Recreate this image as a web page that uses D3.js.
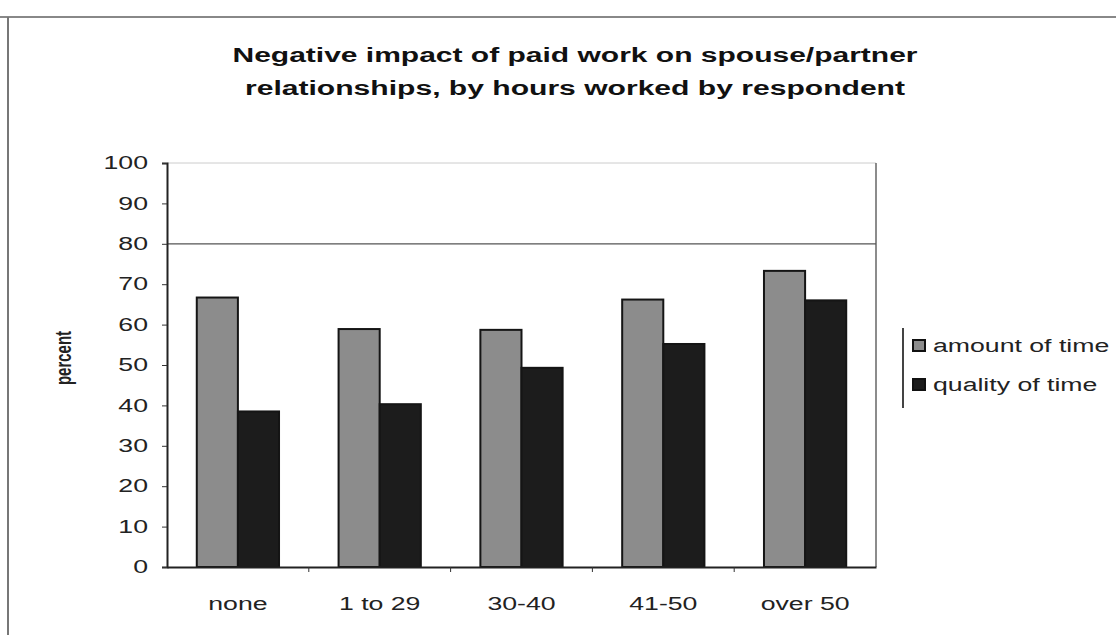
<!DOCTYPE html>
<html><head><meta charset="utf-8">
<script src="https://cdn.jsdelivr.net/npm/d3@7"></script>
<style>body{margin:0;background:#fff}svg{display:block}</style>
</head><body>
<svg id="c" width="1116" height="635"></svg>
<script>
const categories = ["none", "1 to 29", "30-40", "41-50", "over 50"];
const seriesNames = ["amount of time", "quality of time"];
const amountOfTime = [66.7, 58.9, 58.7, 66.2, 73.3];
const qualityOfTime = [38.5, 40.3, 49.3, 55.2, 66.0];
const yTicks = [0, 10, 20, 30, 40, 50, 60, 70, 80, 90, 100];
const titleLines = ["Negative impact of paid work on spouse/partner", "relationships, by hours worked by respondent"];
const colors = ["#8c8c8c", "#1c1c1c"];

const svg = d3.select("#c");
const font = "'Liberation Sans', Arial, sans-serif";
const m = {left: 167, right: 876, top: 163, bottom: 567};
const SX = 1.48; // horizontal stretch of glyphs seen in the reference

function stretch(sel, f) {
  sel.each(function() {
    const w = this.getComputedTextLength();
    d3.select(this).attr("textLength", w * f).attr("lengthAdjust", "spacingAndGlyphs");
  });
}

// outer frame
svg.append("line").attr("x1", 0).attr("x2", 1116).attr("y1", 17).attr("y2", 17).attr("stroke", "#888").attr("stroke-width", 2);
svg.append("line").attr("x1", 8).attr("x2", 8).attr("y1", 17).attr("y2", 635).attr("stroke", "#777").attr("stroke-width", 2);

// title
const tw = [685, 660];
titleLines.forEach((t, i) => {
  svg.append("text").attr("x", 575).attr("y", 62 + i * 33).attr("text-anchor", "middle")
    .attr("font-family", font).attr("font-weight", "bold").attr("font-size", 20)
    .attr("textLength", tw[i]).attr("lengthAdjust", "spacingAndGlyphs").attr("fill", "#111").text(t);
});

const x = d3.scaleBand().domain(categories).range([m.left, m.right]).paddingInner(0.42).paddingOuter(0.21);
const xs = d3.scaleBand().domain(seriesNames).range([0, x.bandwidth()]);
const y = d3.scaleLinear().domain([0, 100]).range([m.bottom, m.top]);

// plot frame (top/right) and gridline at 80
svg.append("line").attr("x1", m.left).attr("x2", m.right).attr("y1", y(100)).attr("y2", y(100)).attr("stroke", "#ccc").attr("stroke-width", 1);
svg.append("line").attr("x1", m.right).attr("x2", m.right).attr("y1", y(100)).attr("y2", y(0)).attr("stroke", "#666").attr("stroke-width", 1.5);
svg.append("line").attr("x1", m.left).attr("x2", m.right).attr("y1", y(80)).attr("y2", y(80)).attr("stroke", "#555").attr("stroke-width", 1.2);

// bars
const data = categories.map((c, i) => ({c, vals: [amountOfTime[i], qualityOfTime[i]]}));
const g = svg.append("g");
data.forEach(d => {
  d.vals.forEach((v, j) => {
    g.append("rect").attr("x", x(d.c) + xs(seriesNames[j])).attr("y", y(v))
      .attr("width", xs.bandwidth()).attr("height", y(0) - y(v))
      .attr("fill", colors[j]).attr("stroke", "#151515").attr("stroke-width", 2);
  });
});

// y axis
const ya = svg.append("g").attr("transform", `translate(${m.left},0)`)
  .call(d3.axisLeft(y).tickValues(yTicks).tickSize(5).tickPadding(14));
ya.select(".domain").attr("stroke", "#222").attr("stroke-width", 2);
ya.selectAll(".tick line").attr("stroke", "#333");
ya.selectAll("text").attr("font-family", font).attr("font-size", 18).attr("fill", "#222");
stretch(ya.selectAll("text"), SX);

// x axis
const xa = svg.append("g").attr("transform", `translate(0,${m.bottom})`)
  .call(d3.axisBottom(x).tickSize(0).tickPadding(30));
xa.select(".domain").attr("stroke", "#222").attr("stroke-width", 2);
xa.selectAll("text").attr("font-family", font).attr("font-size", 18).attr("fill", "#222");
stretch(xa.selectAll("text"), SX);
// category separator ticks
const step = x.step();
categories.slice(1).forEach((c) => {
  const xx = x(c) - x.paddingInner() * step / 2;
  xa.append("line").attr("x1", xx).attr("x2", xx).attr("y1", 0).attr("y2", 5).attr("stroke", "#333");
});

// y label
svg.append("text").attr("transform", "translate(71,358) scale(1.5,1) rotate(-90)").attr("text-anchor", "middle")
  .attr("font-family", font).attr("font-size", 15).attr("font-weight", "bold").attr("fill", "#222").text("percent");

// legend
svg.append("line").attr("x1", 903).attr("x2", 903).attr("y1", 328).attr("y2", 408).attr("stroke", "#444").attr("stroke-width", 2);
seriesNames.forEach((s, i) => {
  const ly = 352 + i * 39;
  svg.append("rect").attr("x", 913).attr("y", ly - 12).attr("width", 12).attr("height", 11)
    .attr("fill", colors[i]).attr("stroke", "#111").attr("stroke-width", 2);
  const t = svg.append("text").attr("x", 933).attr("y", ly).attr("font-family", font).attr("font-size", 18)
    .attr("fill", "#222").text(s);
  stretch(t, SX);
});
</script>
</body></html>
